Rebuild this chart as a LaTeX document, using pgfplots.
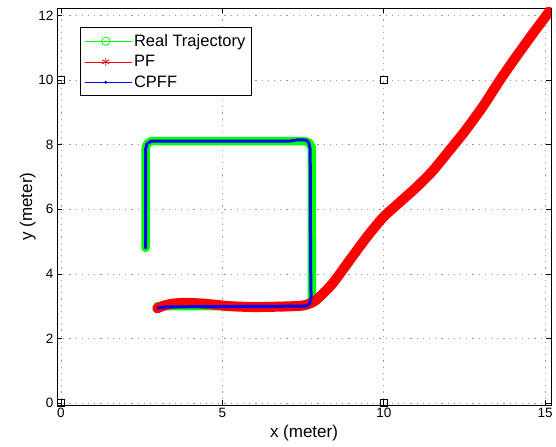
\documentclass[border=0pt]{standalone}
\usepackage{fontspec}
\setmainfont{Liberation Sans}
\usepackage{pgfplots}
\pgfplotsset{compat=1.18}
\definecolor{mgreen}{rgb}{0,1,0}
\definecolor{mred}{rgb}{1,0,0}
\definecolor{mblue}{rgb}{0,0,1}
\begin{document}
\begin{tikzpicture}
\begin{axis}[
  scale only axis, width=494bp, height=397bp,
  xmin=-0.124, xmax=15.18, ymin=-0.062, ymax=12.23,
  xtick={0,5,10,15}, ytick={0,2,4,6,8,10,12},
  /pgf/number format/assume math mode=true,
  ticklabel style={font=\fontsize{13.5bp}{16bp}\selectfont},
  label style={font=\fontsize{17bp}{20bp}\selectfont},
  xlabel={x (meter)}, ylabel={y (meter)},
  ylabel style={yshift=-4bp},
  grid=major,
  major grid style={gray!80, dash pattern=on 1.2bp off 5bp, line width=0.6bp},
  tick align=inside, tick pos=both, major tick length=5bp,
  axis line style={line width=0.8bp},
  every tick/.style={black, line width=0.6bp},
  legend image code/.code={\path (0bp,0bp) -- (47bp,0bp);\draw[mark repeat=2,mark phase=2,#1] plot coordinates {(0bp,0bp) (21bp,0bp) (42bp,0bp)};},
  legend style={at={(0.0466,0.952)}, anchor=north west, draw=black, line width=0.8bp,
    font=\fontsize{16.5bp}{19bp}\selectfont, cells={anchor=west},
    inner xsep=4bp, inner ysep=5bp, row sep=3.5bp},
]
\coordinate (sw) at (rel axis cs:0,0);
\coordinate (ne) at (rel axis cs:1,1);

\addlegendimage{mgreen, line width=0.6bp, mark=o, mark size=4.2bp, mark options={solid, line width=0.8bp}}
\addlegendentry{Real Trajectory}
\addlegendimage{mred, line width=0.6bp, mark=asterisk, mark size=4bp, mark options={solid, mred, line width=0.8bp}}
\addlegendentry{PF}
\addlegendimage{mblue, line width=0.6bp, mark=*, mark size=1.2bp}
\addlegendentry{CPFF}

% Real trajectory
\addplot[mgreen, line width=8.5bp, line cap=round, line join=round, forget plot] coordinates {
(2.62,4.80) (2.62,6.00) (2.62,7.85) (2.66,8.02) (2.80,8.11) (4.00,8.11) (6.00,8.11)
(7.55,8.11) (7.70,8.05) (7.77,7.90) (7.77,6.00) (7.77,4.00) (7.77,3.20) (7.70,3.06)
(7.55,3.00) (6.00,3.00) (4.00,3.00) (2.98,3.00)
};
% PF
\addplot[mred, line width=10bp, line cap=round, line join=round, smooth, tension=0.4, forget plot] coordinates {
(2.98,2.93) (3.20,3.02) (3.50,3.08) (3.90,3.10) (4.50,3.07) (5.20,3.00) (6.00,2.97)
(7.00,2.99) (7.50,3.02) (7.80,3.12) (8.05,3.32) (8.43,3.72) (8.95,4.43) (9.46,5.12)
(9.98,5.75) (10.50,6.22) (11.00,6.67) (11.50,7.17) (12.00,7.78) (12.50,8.40)
(13.07,9.18) (13.60,10.00) (14.10,10.72) (14.62,11.44) (15.15,12.15)
};
% CPFF
\addplot[mblue, line width=3bp, line cap=round, line join=round, forget plot] coordinates {
(2.62,4.80) (2.62,7.85) (2.66,8.02) (2.80,8.11) (5.00,8.11) (7.10,8.11) (7.35,8.15)
(7.60,8.14) (7.68,8.05) (7.72,7.85) (7.73,5.00) (7.74,3.60) (7.75,3.30) (7.71,3.09)
(7.60,3.00) (6.00,2.99) (4.00,2.98) (3.30,2.98) (3.00,2.94)
};
% anchors
\addplot[only marks, mark=square, mark size=3.4bp, black, mark options={line width=0.7bp}, forget plot] coordinates {
(0,0) (0,10) (10,10) (10,0)
};
\end{axis}
\pgfresetboundingbox
\path[use as bounding box] ([shift={(-57bp,-42bp)}]sw) rectangle ([shift={(5bp,8bp)}]ne);
\end{tikzpicture}
\end{document}
